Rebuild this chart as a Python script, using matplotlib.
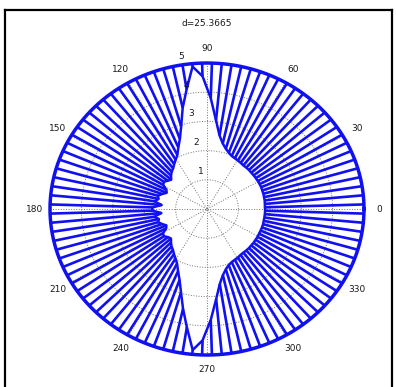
import numpy as np
import matplotlib.pyplot as plt
from matplotlib.lines import Line2D

# Data

title_text = 'd=25.3665'
r_max = 5
ring_values = [1, 2, 3, 4]
ring_labels = ['1', '2', '3', '4', '5']
angle_ticks = [0, 30, 60, 90, 120, 150, 180, 210, 240, 270, 300, 330]

# spoke directions (deg) and the inner end of each spoke
spoke_deg = np.arange(100) * 3.6 + 1.8
inner_r = [
    1.85, 1.85, 1.86, 1.86, 1.87, 1.87, 1.88, 1.88, 1.88, 1.88,
    1.88, 1.88, 1.89, 1.89, 1.89, 1.91, 1.93, 1.95, 1.98, 2.05,
    2.15, 2.30, 2.55, 3.05, 3.80, 4.55, 4.90, 4.15, 3.55, 2.95,
    2.55, 2.30, 2.08, 1.96, 1.86, 1.76, 1.70, 1.62, 1.52, 1.58,
    1.66, 1.62, 1.45, 1.40, 1.52, 1.63, 1.58, 1.70, 1.45, 1.74,
    1.74, 1.46, 1.71, 1.57, 1.62, 1.52, 1.41, 1.46, 1.63, 1.66,
    1.57, 1.53, 1.62, 1.71, 1.77, 1.87, 1.97, 2.10, 2.32, 2.58,
    2.97, 3.50, 4.10, 4.85, 4.50, 3.80, 3.10, 2.60, 2.32, 2.15,
    2.04, 1.98, 1.95, 1.93, 1.90, 1.89, 1.89, 1.89, 1.88, 1.88,
    1.87, 1.87, 1.86, 1.86, 1.86, 1.86, 1.85, 1.85, 1.85, 1.85,
]


# Figure

fig = plt.figure(figsize=(3.96, 3.87), dpi=100)
fig.patch.set_facecolor('white')

# frame round the figure
for xs, ys in [([0.013, 0.013], [0.0, 0.975]),
               ([0.013, 0.99], [0.975, 0.975]),
               ([0.99, 0.99], [0.975, 0.0])]:
    fig.add_artist(Line2D(xs, ys, color='black', lw=1.6,
                          transform=fig.transFigure))

ax = fig.add_axes([0.047, 0.0072, 0.9515, 0.9054])
ax.set_xlim(-6, 6)
ax.set_ylim(-6, 6)
ax.axis('off')

grid_col = '0.45'
t = np.linspace(0, 2 * np.pi, 361)

# dotted rings and solid outer ring
for r in ring_values:
    ax.plot(r * np.cos(t), r * np.sin(t), ls=':', color=grid_col, lw=0.7)
ax.plot(r_max * np.cos(t), r_max * np.sin(t), color='black', lw=0.7)

# dotted spokes every 30 degrees
for a in range(0, 180, 30):
    ca, sa = np.cos(np.radians(a)), np.sin(np.radians(a))
    ax.plot([-r_max * ca, r_max * ca], [-r_max * sa, r_max * sa],
            ls=':', color=grid_col, lw=0.7)

# ring labels
c99, s99 = np.cos(np.radians(99)), np.sin(np.radians(99))
for i, lab in enumerate(ring_labels):
    rr = i + 1 + 0.3
    ax.text(rr * c99, rr * s99, lab, fontsize=6.5, color='0.1',
            ha='center', va='center')

# angle labels
for a in angle_ticks:
    ax.text(1.1 * r_max * np.cos(np.radians(a)),
            1.1 * r_max * np.sin(np.radians(a)), str(a),
            fontsize=6.5, color='0.1', ha='center', va='center')

blue = '#1010f0'
th = np.radians(spoke_deg)
ri = np.array(inner_r)

# spokes from the inner curve out to the rim
for k in range(len(th)):
    ax.plot([ri[k] * np.cos(th[k]), r_max * np.cos(th[k])],
            [ri[k] * np.sin(th[k]), r_max * np.sin(th[k])],
            color=blue, lw=1.9, solid_capstyle='butt')

# inner curve through the spoke ends (closed)
ax.plot(np.append(ri * np.cos(th), ri[0] * np.cos(th[0])),
        np.append(ri * np.sin(th), ri[0] * np.sin(th[0])),
        color=blue, lw=1.8)

# rim
ax.plot(r_max * np.cos(t), r_max * np.sin(t), color=blue, lw=2.5)

ax.text(0, 6.35, title_text, fontsize=6.5, color='0.1',
        ha='center', va='center')

fig.savefig('out.png', dpi=100)
